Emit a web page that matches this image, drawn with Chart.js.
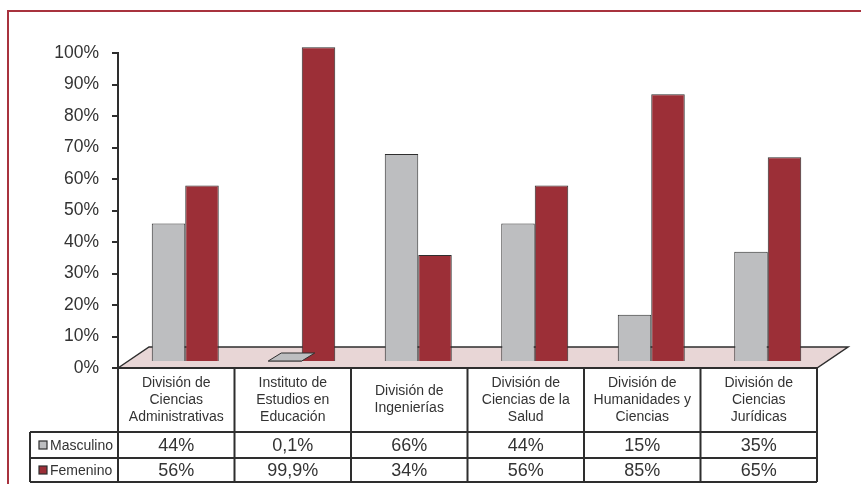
<!DOCTYPE html>
<html>
<head>
<meta charset="utf-8">
<script src="https://cdn.jsdelivr.net/npm/chart.js@4.4.1/dist/chart.umd.min.js"></script>
<style>
  html, body { margin: 0; padding: 0; background: #fff; }
  #wrap { width: 861px; height: 484px; position: relative; }
</style>
</head>
<body>
<div id="wrap"><canvas id="chart" width="861" height="484"></canvas></div>
<script>
// data
var categories = [
  ['División de', 'Ciencias', 'Administrativas'],
  ['Instituto de', 'Estudios en', 'Educación'],
  ['División de', 'Ingenierías'],
  ['División de', 'Ciencias de la', 'Salud'],
  ['División de', 'Humanidades y', 'Ciencias'],
  ['División de', 'Ciencias', 'Jurídicas']
];
var seriesNames = ['Masculino', 'Femenino'];
var masculino = [44, 0.1, 66, 44, 15, 35];
var femenino = [56, 99.9, 34, 56, 85, 65];
var masculinoText = ['44%', '0,1%', '66%', '44%', '15%', '35%'];
var femeninoText = ['56%', '99,9%', '34%', '56%', '85%', '65%'];

var greyColor = '#bdbec0';
var redColor = '#9c2f37';
var lineColor = '#2e2e2e';
var font = '"Liberation Sans", Arial, sans-serif';

var ctx = document.getElementById('chart').getContext('2d');

// floor, frame, data table
var extras = {
  id: 'extras',
  beforeDraw: function (chart) {
    var c = chart.ctx, a = chart.chartArea;
    c.save();
    c.fillStyle = '#fff';
    c.fillRect(0, 0, chart.width, chart.height);
    // outer frame
    c.strokeStyle = '#a8323e';
    c.lineWidth = 2;
    c.beginPath();
    c.moveTo(8, 490); c.lineTo(8, 11); c.lineTo(870, 11);
    c.stroke();
    // floor
    c.fillStyle = '#e8d6d6';
    c.strokeStyle = lineColor;
    c.lineWidth = 1.5;
    c.beginPath();
    c.moveTo(a.left, a.bottom);
    c.lineTo(a.left + 31, a.bottom - 21);
    c.lineTo(a.right + 31, a.bottom - 21);
    c.lineTo(a.right, a.bottom);
    c.closePath();
    c.fill();
    c.stroke();
    c.restore();
  },
  beforeDatasetsDraw: function (chart) {
    chart.ctx.save();
    chart.ctx.translate(9, -6);
  },
  afterDatasetsDraw: function (chart) {
    var c = chart.ctx;
    // flat bars show their top face as a parallelogram
    chart.data.datasets.forEach(function (ds, i) {
      chart.getDatasetMeta(i).data.forEach(function (bar) {
        if (Math.abs(bar.base - bar.y) < 2) {
          var l = bar.x - bar.width / 2, r = bar.x + bar.width / 2;
          c.fillStyle = ds.backgroundColor;
          c.strokeStyle = lineColor;
          c.lineWidth = 1;
          c.beginPath();
          c.moveTo(l, bar.base);
          c.lineTo(l + 13, bar.base - 8);
          c.lineTo(r + 13, bar.base - 8);
          c.lineTo(r, bar.base);
          c.closePath();
          c.fill();
          c.stroke();
        }
      });
    });
    c.restore();
  },
  afterDraw: function (chart) {
    var c = chart.ctx, a = chart.chartArea;
    var n = categories.length;
    var colW = (a.right - a.left) / n;
    var y0 = a.bottom, y1 = 432, y2 = 458, y3 = 482;
    var legL = 30;
    c.save();
    c.strokeStyle = lineColor;
    c.lineWidth = 2;
    c.beginPath();
    // axis continues down through the header row
    c.moveTo(a.left, y0); c.lineTo(a.left, y3);
    for (var i = 1; i <= n; i++) {
      var x = a.left + colW * i;
      c.moveTo(x, y0); c.lineTo(x, y3);
    }
    c.moveTo(a.left, y0); c.lineTo(a.right, y0);
    c.moveTo(legL, y1); c.lineTo(a.right, y1);
    c.moveTo(legL, y2); c.lineTo(a.right, y2);
    c.moveTo(legL, y3); c.lineTo(a.right, y3);
    c.moveTo(legL, y1); c.lineTo(legL, y3);
    c.stroke();

    c.fillStyle = '#333';
    c.textAlign = 'center';
    c.textBaseline = 'middle';
    c.font = '14px ' + font;
    categories.forEach(function (lines, i) {
      var cx = a.left + colW * (i + 0.5);
      var top = (y0 + y1) / 2 - (lines.length - 1) * 17 / 2;
      lines.forEach(function (t, j) { c.fillText(t, cx, top + j * 17); });
    });
    c.font = '18px ' + font;
    var rows = [masculinoText, femeninoText];
    var rowY = [(y1 + y2) / 2 + 1, (y2 + y3) / 2 + 1];
    rows.forEach(function (r, k) {
      r.forEach(function (t, i) {
        c.fillText(t, a.left + colW * (i + 0.5), rowY[k]);
      });
    });
    // legend keys
    var keyColors = [greyColor, redColor];
    c.font = '14px ' + font;
    c.textAlign = 'left';
    seriesNames.forEach(function (s, k) {
      c.fillStyle = keyColors[k];
      c.fillRect(39, rowY[k] - 5, 8, 8);
      c.strokeStyle = lineColor;
      c.lineWidth = 1.2;
      c.strokeRect(39, rowY[k] - 5, 8, 8);
      c.fillStyle = '#333';
      c.fillText(s, 50, rowY[k]);
    });
    c.restore();
  }
};

var myChart = new Chart(ctx, {
  type: 'bar',
  data: {
    labels: categories,
    datasets: [{
      label: seriesNames[0],
      data: masculino,
      backgroundColor: greyColor,
      borderColor: lineColor,
      borderWidth: 1,
      clip: false
    }, {
      label: seriesNames[1],
      data: femenino,
      backgroundColor: redColor,
      borderColor: lineColor,
      borderWidth: 1,
      clip: false
    }]
  },
  options: {
    responsive: false,
    animation: false,
    devicePixelRatio: 1,
    layout: { padding: { top: 53, bottom: 116, left: 0, right: 44 } },
    datasets: { bar: { categoryPercentage: 0.575, barPercentage: 1.0 } },
    plugins: {
      legend: { display: false },
      tooltip: { enabled: false }
    },
    scales: {
      x: { display: false },
      y: {
        min: 0,
        max: 100,
        afterFit: function (s) { s.width = 118; },
        border: { color: lineColor, width: 2 },
        grid: { drawOnChartArea: false, tickLength: 6, color: lineColor, lineWidth: 2 },
        ticks: {
          stepSize: 10,
          padding: 13,
          color: '#333',
          font: { family: font, size: 17.5 },
          callback: function (v) { return v + '%'; }
        }
      }
    }
  },
  plugins: [extras]
});
</script>
</body>
</html>
